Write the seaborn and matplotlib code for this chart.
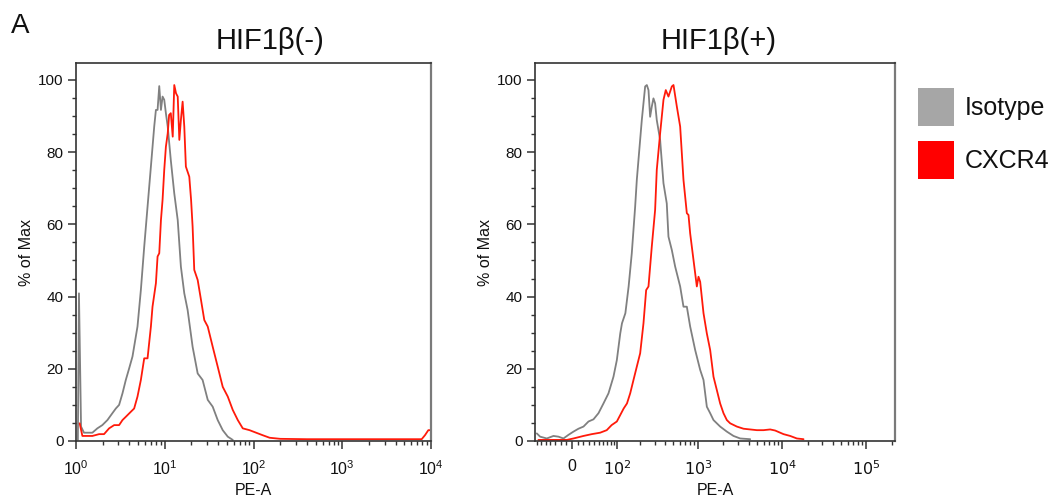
import numpy as np
import matplotlib
matplotlib.use("Agg")
import matplotlib.pyplot as plt
from matplotlib.patches import Patch
from matplotlib.ticker import FixedLocator, FixedFormatter, MultipleLocator, LogLocator, NullFormatter
import seaborn as sns

sns.set_style("ticks")
plt.rcParams["font.family"] = ["Liberation Sans", "DejaVu Sans"]
plt.rcParams["text.color"] = "#111111"
plt.rcParams["xtick.labelcolor"] = "#111111"
plt.rcParams["ytick.labelcolor"] = "#111111"
plt.rcParams["axes.labelcolor"] = "#111111"

# ---- HIF1b(-) panel (log PE-A axis) ----
neg_iso_x = [1.05, 1.08, 1.14, 1.23, 1.53, 1.74, 1.98, 2.26, 2.57, 2.81, 3.06, 3.34, 3.64, 3.97,
             4.33, 4.93, 5.38, 5.87, 6.40, 6.98, 7.61, 7.95, 8.30, 8.67, 9.06, 9.45, 9.87, 10.3,
             10.8, 11.7, 12.8, 14.0, 15.2, 16.6, 18.1, 20.6, 23.5, 26.7, 30.5, 34.7, 39.5, 45.0,
             51.3, 58.4]
neg_iso_y = [0.3, 40.9, 4.0, 2.3, 2.3, 3.5, 4.4, 5.8, 7.7, 9.0, 10.0, 13.2, 16.9, 20.1,
             23.4, 31.7, 41.8, 53.8, 64.9, 76.0, 87.1, 91.7, 91.7, 98.3, 91.7, 95.4, 94.5, 90.8,
             87.1, 77.8, 68.6, 61.2, 48.3, 40.9, 36.3, 26.1, 18.7, 16.9, 11.4, 9.5, 5.8, 3.0,
             1.2, 0.3]

neg_cxcr4_x = [1.10, 1.18, 1.53, 1.82, 2.07, 2.36, 2.69, 3.06, 3.34, 3.64, 4.15, 4.52, 4.93, 5.38,
               5.87, 6.40, 6.98, 7.28, 7.95, 8.30, 8.67, 9.06, 9.45, 9.87, 10.3, 10.8, 11.2, 11.7,
               12.3, 12.8, 13.4, 14.0, 14.6, 15.2, 15.9, 16.6, 17.3, 18.9, 19.8, 20.6, 21.5, 23.5,
               25.6, 27.9, 30.5, 34.7, 39.5, 45.0, 51.3, 58.4, 66.5, 75.7, 90.2, 107, 127, 152,
               200, 400, 1000, 3000, 7850, 8550, 9330, 10000]
neg_cxcr4_y = [4.9, 1.4, 1.4, 1.9, 1.9, 3.5, 4.4, 4.4, 5.8, 6.7, 8.1, 9.0, 12.3, 16.9,
               22.9, 22.9, 31.7, 37.2, 43.7, 51.1, 52.0, 61.2, 66.8, 75.1, 81.5, 85.2, 90.3, 90.8,
               84.3, 98.6, 96.3, 95.4, 83.4, 88.9, 94.0, 87.1, 76.0, 73.2, 66.8, 59.4, 47.4, 44.6,
               39.1, 33.5, 31.7, 26.1, 20.6, 15.0, 12.3, 8.6, 5.8, 3.5, 3.0, 2.3, 1.6, 0.9,
               0.6, 0.5, 0.5, 0.5, 0.5, 1.6, 3.0, 3.0]

# ---- HIF1b(+) panel (biexponential PE-A axis) ----
pos_iso_x = [-71.2, -62.8, -47.5, -33.8, -24.2, -15.2, -6.4, 2.3, 11.0, 20.0, 29.3, 39.1, 49.7,
             61.2, 73.9, 87.9, 98.3, 109.7, 115.8, 128.6, 141.9, 155.9, 172.1, 180.6, 189.4,
             208.6, 229.5, 240.7, 252.2, 264.2, 276.7, 290.0, 303.9, 318.3, 349.5, 383.6, 420.3,
             440.5, 483.5, 530.2, 608.6, 666.8, 731.2, 801.4, 919.6, 1054.8, 1156, 1266.5, 1388,
             1520.6, 1825, 2192, 2631, 3160, 4157]
pos_iso_y = [2.1, 1.2, 0.7, 1.4, 1.2, 0.7, 1.7, 2.6, 3.4, 4.0, 5.4, 6.0, 7.7,
             10.4, 13.2, 17.8, 22.4, 29.8, 32.6, 35.4, 42.8, 52.0, 64.9, 72.3, 77.8,
             88.9, 98.2, 98.6, 97.2, 89.8, 92.6, 94.9, 93.5, 88.9, 83.4, 71.4, 65.8,
             56.6, 52.9, 48.3, 42.8, 37.2, 37.2, 31.7, 25.2, 19.7, 16.9, 9.5, 7.7,
             5.8, 4.0, 2.6, 1.4, 0.7, 0.5]

pos_cxcr4_x = [-67, -9.3, 2.3, 20.0, 35.7, 53.4, 69.3, 82.5, 98.3, 109.7, 122.0, 135.0, 148.7,
               163.9, 180.6, 199.0, 218.8, 236.1, 252.2, 276.7, 303.9, 318.3, 349.5, 383.6, 409,
               440.5, 483.5, 506.2, 555.5, 608.6, 666.8, 731.2, 765.4, 801.4, 878.5, 962.5, 1007.4,
               1054.8, 1156, 1266.5, 1388, 1520.6, 1666.6, 1825, 2000, 2192, 2402, 2884, 3463,
               4157, 4991, 5991, 7192, 8248, 10365, 12444, 14940, 17936]
pos_cxcr4_y = [0.3, 0.3, 0.7, 1.4, 1.9, 2.3, 3.0, 4.4, 5.4, 7.2, 9.0, 10.4, 13.2,
               16.9, 20.6, 24.3, 32.6, 41.8, 42.8, 53.8, 64.0, 75.1, 85.2, 94.5, 97.2,
               95.4, 98.2, 98.6, 92.6, 87.1, 72.3, 63.1, 62.6, 57.5, 50.1, 42.8, 45.5,
               44.1, 35.4, 29.8, 25.2, 17.8, 14.1, 10.4, 7.7, 5.8, 4.9, 4.0, 3.4,
               3.2, 3.0, 3.0, 3.2, 2.9, 1.9, 1.4, 0.7, 0.5]

titles = ["HIF1β(-)", "HIF1β(+)"]
legend_labels = ["Isotype", "CXCR4"]
iso_color = "#808080"
cxcr4_color = "#ff1a0a"

# biexponential-ish transform for the second panel
W = 63.2
def fwd(x):
    return np.arcsinh(np.asarray(x) / W) / np.log(10)
def inv(y):
    return W * np.sinh(np.asarray(y) * np.log(10))

fig = plt.figure(figsize=(10.56, 5.04), dpi=100)
ax1 = fig.add_axes([76 / 1056, 63 / 504, 355 / 1056, 378 / 504])
ax2 = fig.add_axes([535 / 1056, 63 / 504, 360 / 1056, 378 / 504])

sns.lineplot(x=neg_iso_x, y=neg_iso_y, color=iso_color, lw=1.3, ax=ax1)
sns.lineplot(x=neg_cxcr4_x, y=neg_cxcr4_y, color=cxcr4_color, lw=1.3, ax=ax1)
sns.lineplot(x=pos_iso_x, y=pos_iso_y, color=iso_color, lw=1.3, ax=ax2)
sns.lineplot(x=pos_cxcr4_x, y=pos_cxcr4_y, color=cxcr4_color, lw=1.3, ax=ax2)

ax1.set_xscale("log")
ax1.set_xlim(1, 1e4)
ax1.xaxis.set_major_locator(LogLocator(base=10, numticks=10))
ax1.xaxis.set_minor_locator(LogLocator(base=10, subs=np.arange(2, 10), numticks=10))
ax1.xaxis.set_minor_formatter(NullFormatter())

ax2.set_xscale("function", functions=(fwd, inv))
ax2.set_xlim(-76, 2.2e5)
major = [0, 1e2, 1e3, 1e4, 1e5]
minor = ([-70, -60, -50, -40, -30, -20, -10] + list(range(10, 100, 10))
         + list(range(200, 1000, 100)) + list(range(2000, 10000, 1000))
         + list(range(20000, 100000, 10000)) + [200000])
ax2.xaxis.set_major_locator(FixedLocator(major))
ax2.xaxis.set_major_formatter(FixedFormatter(["0", "$10^2$", "$10^3$", "$10^4$", "$10^5$"]))
ax2.xaxis.set_minor_locator(FixedLocator(minor))
ax2.xaxis.set_minor_formatter(NullFormatter())

for ax, title, tx in zip([ax1, ax2], titles, [0.546, 0.511]):
    ax.set_ylim(0, 104.7)
    ax.yaxis.set_major_locator(MultipleLocator(20))
    ax.yaxis.set_minor_locator(MultipleLocator(5))
    ax.set_title(title, fontsize=21, x=tx, pad=10)
    ax.set_xlabel("PE-A", fontsize=11.5, labelpad=4)
    ax.set_ylabel("% of Max", fontsize=11.5, labelpad=3)
    ax.tick_params(which="major", direction="out", length=6, width=1.1, color="#333333")
    ax.tick_params(which="minor", direction="out", length=3, width=1.0, color="#333333")
    ax.tick_params(axis="y", labelsize=11, pad=3)
    ax.tick_params(axis="x", labelsize=11.5, pad=7)
    for side in ["left", "bottom", "top"]:
        ax.spines[side].set_color("#333333")
        ax.spines[side].set_linewidth(1.2)
    ax.spines["right"].set_color("#7a7a7a")
    ax.spines["right"].set_linewidth(1.6)

fig.text(11 / 1056, 1 - 33 / 504, "A", fontsize=20, va="baseline")

handles = [Patch(facecolor="#a6a6a6", edgecolor="none", label=legend_labels[0]),
           Patch(facecolor="#ff0000", edgecolor="none", label=legend_labels[1])]
fig.legend(handles=handles, loc="upper left", bbox_to_anchor=(918 / 1056, 1 - 88 / 504),
           frameon=False, fontsize=18, handlelength=1.44, handleheight=1.96,
           handletextpad=0.42, labelspacing=0.6, borderpad=0, borderaxespad=0)

fig.savefig("out.png", dpi=100)
